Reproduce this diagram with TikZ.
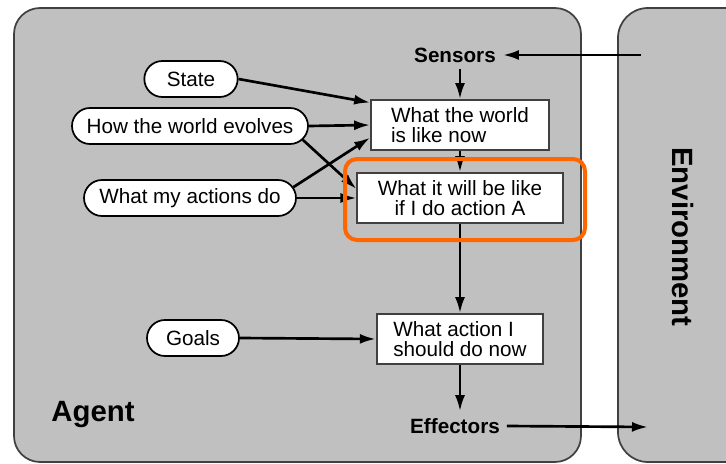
\documentclass[tikz,border=0pt]{standalone}
\usepackage{fontspec}
\setmainfont{Liberation Sans}
\usetikzlibrary{arrows.meta,shapes.misc}

\definecolor{panelgray}{RGB}{192,192,192}
\definecolor{edgegray}{RGB}{64,64,64}
\definecolor{markorange}{RGB}{255,102,0}
\newcommand{\mainsize}{\fontsize{15.5}{15}\selectfont}
\newcommand{\titlesize}{\fontsize{22}{24}\selectfont}

\tikzset{every picture/.style={line width=0.75pt}}
\tikzset{
	panel/.style={draw=edgegray, fill=panelgray, line width=1.3pt},
	oval/.style={rounded rectangle, draw=black, fill=white, line width=1.3pt, minimum height=27pt, inner sep=1pt, font=\mainsize},
	box/.style={rectangle, draw=edgegray, fill=white, line width=1.3pt, minimum height=37.5pt, inner sep=2pt, align=left, font=\mainsize},
	port/.style={inner sep=5pt, font=\mainsize\bfseries},
	title/.style={inner sep=0pt, font=\titlesize\bfseries},
	flow/.style={-{Latex[length=12pt,width=7.5pt]}, line width=2pt},
}

\begin{document}
\begin{tikzpicture}[x=0.75pt,y=0.75pt,yscale=-1,xscale=1]
		\clip (0,0) rectangle (726,464);
		
		%Rounded Rect [Agent]
		\draw [panel, rounded corners=19.5pt] (14,8) rectangle (581,462) ;
		%Rounded Rect [Environment]
		\draw [panel, rounded corners=22.5pt] (618,8) rectangle (780,462) ;
		
		% Text Node
		\node [oval, minimum width=72pt] (state) at (191,79) {State};
		% Text Node
		\node [oval, minimum width=179pt] (evolve) at (190,126) {How the world evolves};
		% Text Node
		\node [oval, minimum width=161pt] (actions) at (190,198) {What my actions do};
		% Text Node
		\node [oval, minimum width=71pt] (goals) at (193,338) {Goals};
		
		% Text Node
		\node [box, minimum width=133.5pt] (world) at (460,125) {What the world\\is like now};
		% Text Node
		\node [box, minimum width=154pt, align=center] (predict) at (460,198) {What it will be like\\if I do action A};
		% Text Node
		\node [box, minimum width=125pt] (decide) at (460,339) {What action I\\should do now};
		
		% Text Node
		\node [port] (sensors) at (455,55) {Sensors};
		% Text Node
		\node [port] (effectors) at (455,426) {Effectors};
		% Text Node
		\node [title] (agent) at (93,415) {Agent};
		% Text Node
		\node [title, rotate=-90] (environment) at (683,237) {Environment};
		
		\coordinate (percept) at (641,55);
		\coordinate (act) at (648,427);
		
		%Arrows
		\draw [flow] (percept) -- (sensors.east) ;
		\draw [flow] (sensors.south -| world.north) -- (world.north) ;
		\draw [flow] (world.south) -- (predict.north) ;
		\draw [flow] (predict.south) -- (decide.north) ;
		\draw [flow] (decide.south) -- (decide.south |- effectors.north) ;
		\draw [flow] (effectors.east) -- (act) ;
		\draw [flow] (state.east) -- (world.166) ;
		\draw [flow] (evolve.east) -- (world.west) ;
		\draw [flow] (evolve.-7) -- (predict.175) ;
		\draw [flow] (actions.6) -- (world.188) ;
		\draw [flow] (actions.east) -- (predict.west) ;
		\draw [flow] (goals.east) -- (decide.west) ;
		
		%Rounded Rect [highlight]
		\draw [markorange, line width=3pt, rounded corners=9pt] (345,159) rectangle (585,240) ;
		
	\end{tikzpicture}
\end{document}
